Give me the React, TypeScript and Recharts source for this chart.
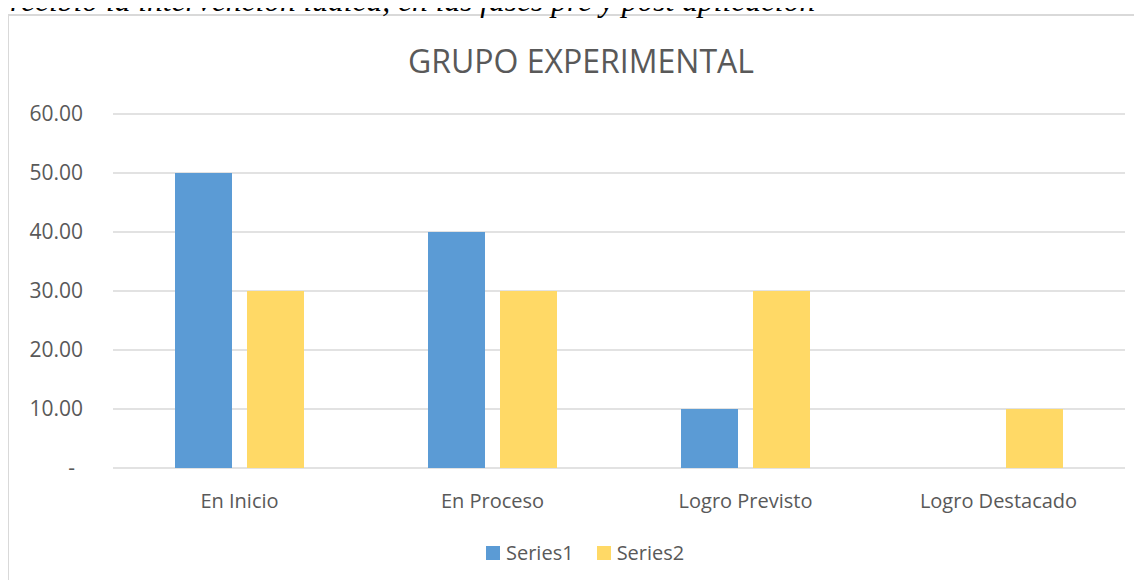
import React from "react"
import { BarChart, Bar, XAxis, YAxis, CartesianGrid, Legend } from "recharts"

const categories = ["En Inicio", "En Proceso", "Logro Previsto", "Logro Destacado"]
const series1 = [50, 40, 10, 0]
const series2 = [30, 30, 30, 10]
const yTicks = [0, 10, 20, 30, 40, 50, 60]
const seriesNames = ["Series1", "Series2"]

const caption = "recibió la intervención lúdica, en las fases pre y post aplicación"
const title = "GRUPO EXPERIMENTAL"

const BLUE = "#5B9BD5"
const YELLOW = "#FFD966"
const TEXT = "#595959"
const GRID = "#d9d9d9"
const FONT = "'Open Sans', sans-serif"

const data = categories.map((name, i) => ({
  name,
  [seriesNames[0]]: series1[i],
  [seriesNames[1]]: series2[i],
}))

// accounting-style labels: zero shows as a dash sitting a little further left
function YTick({ x, y, payload }: any) {
  const v = payload.value as number
  const label = v === 0 ? "-" : v.toFixed(2)
  return (
    <text
      x={v === 0 ? x - 8 : x}
      y={y}
      dy="0.355em"
      textAnchor="end"
      fill={TEXT}
      fontSize={21}
      fontFamily={FONT}
    >
      {label}
    </text>
  )
}

function LegendContent({ payload }: any) {
  return (
    <div style={{ display: "flex", alignItems: "center", paddingLeft: 486, lineHeight: "20px" }}>
      {(payload ?? []).map((p: any, i: number) => (
        <div key={p.value} style={{ display: "flex", alignItems: "center", marginLeft: i ? 23 : 0 }}>
          <span style={{ width: 14, height: 14, background: p.color, display: "inline-block", marginRight: 6 }} />
          <span style={{ color: TEXT, fontSize: 20, fontFamily: FONT }}>{p.value}</span>
        </div>
      ))}
    </div>
  )
}

export default function App() {
  return (
    <div
      style={{
        position: "relative",
        width: 1142,
        height: 580,
        margin: "-8px 0 0 -8px",
        overflow: "hidden",
        background: "#fff",
      }}
    >
      <div
        style={{
          position: "absolute",
          left: 7,
          top: 14,
          width: 1200,
          height: 700,
          border: `2px solid ${GRID}`,
        }}
      />
      <svg width={1142} height={580} style={{ position: "absolute", left: 0, top: 0 }}>
        <text x={10} y={11} fontFamily="'Liberation Serif', serif" fontStyle="italic" fontSize={31.5} fill="#000">
          {caption}
        </text>
        <text x={581} y={73} textAnchor="middle" fontFamily={FONT} fontSize={32} fill={TEXT}>
          {title}
        </text>
      </svg>
      <div style={{ position: "absolute", left: 0, top: 0 }}>
        <BarChart
          width={1142}
          height={580}
          data={data}
          margin={{ top: 114, right: 17, bottom: 82, left: 0 }}
          barCategoryGap={62}
          barGap={15}
        >
          <CartesianGrid vertical={false} stroke={GRID} strokeWidth={1.5} />
          <XAxis
            dataKey="name"
            axisLine={false}
            tickLine={false}
            tickMargin={20}
            tick={{ fill: TEXT, fontSize: 20, fontFamily: FONT }}
          />
          <YAxis
            width={113}
            domain={[0, 60]}
            ticks={yTicks}
            axisLine={false}
            tickLine={false}
            tickMargin={24}
            tick={<YTick />}
          />
          <Legend
            layout="horizontal"
            verticalAlign="middle"
            align="center"
            wrapperStyle={{ top: 543, left: 0, width: 1142 }}
            content={<LegendContent />}
          />
          <Bar dataKey={seriesNames[0]} fill={BLUE} isAnimationActive={false} />
          <Bar dataKey={seriesNames[1]} fill={YELLOW} isAnimationActive={false} />
        </BarChart>
      </div>
    </div>
  )
}
